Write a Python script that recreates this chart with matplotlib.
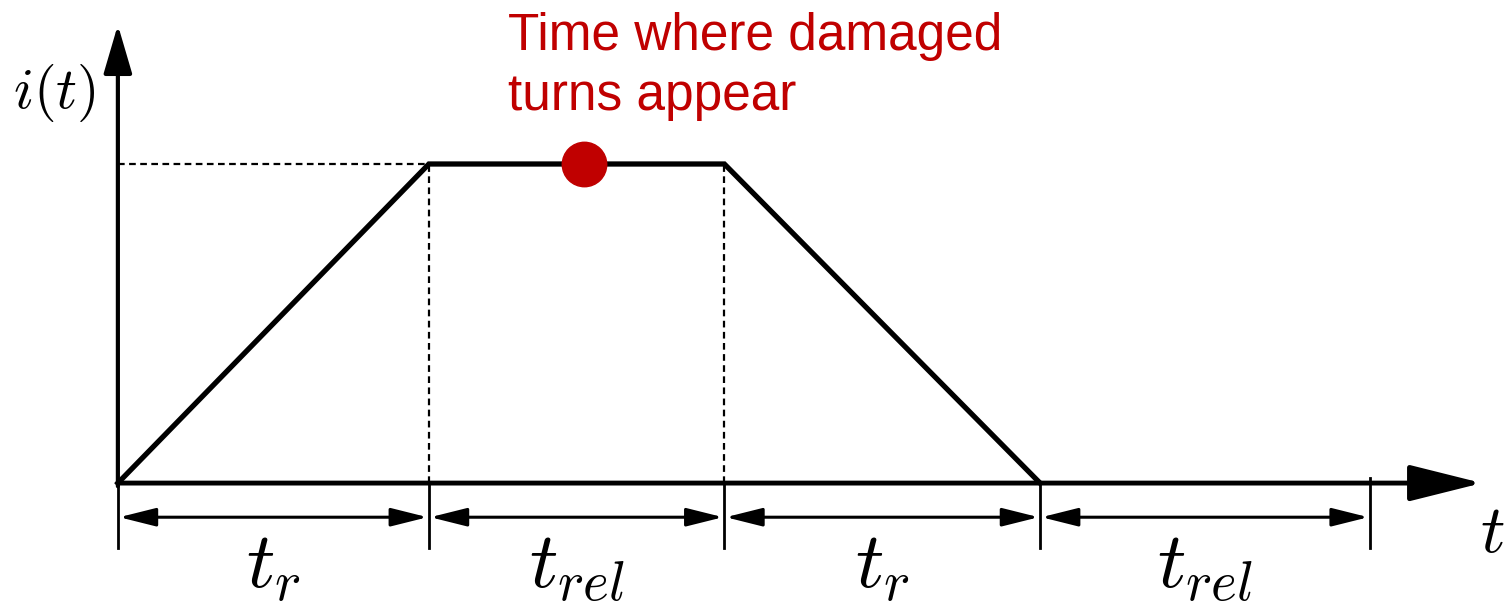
import numpy as np
import matplotlib.pyplot as plt

plt.rcParams['mathtext.fontset'] = 'cm'

# Segment labels and durations (t_r = 1 unit)
seg_labels = ['$t_r$', '$t_{rel}$', '$t_r$', '$t_{rel}$']
seg_durations = [1.0, 0.95, 1.015, 1.06]

# Current waveform: ramp up, plateau, ramp down, zero
wave_t = [0.0, 1.0, 1.95, 2.965]
wave_i = [0.0, 1.0, 1.0, 0.0]

# Moment when damaged turns show up
damage_t = 1.50
damage_i = 1.0
damage_label = 'Time where damaged\nturns appear'

red = '#C00000'

fig = plt.figure(figsize=(15.1, 6.04), dpi=100)
ax = fig.add_axes([0, 0, 1, 1])
ax.set_xlim(-0.379, 4.476)
ax.set_ylim(-0.379, 1.514)
ax.axis('off')

bounds = np.concatenate([[0], np.cumsum(seg_durations)])

# axes with arrow heads
ax.annotate('', xy=(0, 1.436), xytext=(0, -0.01),
            arrowprops=dict(arrowstyle='-|>,head_length=0.75,head_width=0.22',
                            lw=3, color='black', mutation_scale=40,
                            shrinkA=0, shrinkB=0))
ax.annotate('', xy=(4.386, 0), xytext=(0, 0),
            arrowprops=dict(arrowstyle='-|>,head_length=1.0,head_width=0.25',
                            lw=3.5, color='black', mutation_scale=45,
                            shrinkA=0, shrinkB=0))

# dashed guides to the plateau
ax.plot([0, wave_t[1]], [1, 1], ls=(0, (3, 2)), lw=1.6, color='black')
for x in wave_t[1:3]:
    ax.plot([x, x], [0, 1], ls=(0, (3, 2)), lw=1.6, color='black')

# current waveform
ax.plot(wave_t, wave_i, color='black', lw=3.8, solid_joinstyle='miter')

# segment ticks, dimension arrows and labels
for k, b in enumerate(bounds):
    top = 0.015 if k == len(bounds) - 1 else 0
    ax.plot([b, b], [top, -0.204], color='black', lw=2)
for k, lab in enumerate(seg_labels):
    ax.annotate('', xy=(bounds[k + 1], -0.107), xytext=(bounds[k], -0.107),
                arrowprops=dict(arrowstyle='<|-|>,head_length=0.8,head_width=0.2',
                                lw=2.2, color='black', mutation_scale=28,
                                shrinkA=1, shrinkB=1))
    ax.text((bounds[k] + bounds[k + 1]) / 2, -0.326, lab, fontsize=57,
            ha='center', va='baseline')

# axis labels
ax.text(-0.205, 1.175, '$i(t)$', fontsize=42, ha='center', va='baseline')
ax.text(4.42, -0.216, '$t$', fontsize=49, ha='center', va='baseline')

# damaged-turn marker and note
ax.plot(damage_t, damage_i, 'o', color=red, markersize=32, zorder=5)
ax.text(1.255, 1.169, damage_label, color=red, fontsize=37,
        family='Liberation Sans', ha='left', va='baseline', linespacing=1.28)

fig.savefig('out.png', dpi=100)
